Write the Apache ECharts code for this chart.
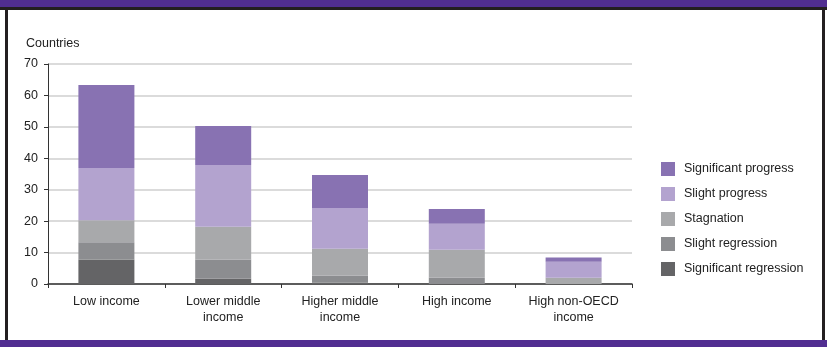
<!DOCTYPE html>
<html><head><meta charset="utf-8">
<script src="https://cdn.jsdelivr.net/npm/echarts@6/dist/echarts.min.js"></script>
<style>html,body{margin:0;padding:0;background:#fff}#c{width:827px;height:347px}</style>
</head><body><div id="c"></div>
<script>
var categories = ['Low income', 'Lower middle\nincome', 'Higher middle\nincome', 'High income', 'High non-OECD\nincome'];
var sigRegression = [7.8, 1.7, 0.5, 0, 0];
var slightRegression = [5.5, 6.0, 2.1, 2.0, 0];
var stagnation = [7.0, 10.5, 8.6, 8.9, 2.0];
var slightProgress = [16.6, 19.7, 13.0, 8.3, 5.1];
var sigProgress = [26.4, 12.4, 10.5, 4.7, 1.3];
var yTicks = [0, 10, 20, 30, 40, 50, 60, 70];
var seriesNames = ['Significant regression', 'Slight regression', 'Stagnation', 'Slight progress', 'Significant progress'];
var seriesColors = ['#646466', '#8c8d90', '#a8a9ab', '#b3a3cf', '#8872b2'];
var seriesData = [sigRegression, slightRegression, stagnation, slightProgress, sigProgress];

var FONT = '"Liberation Sans Narrow","Liberation Sans",Arial,sans-serif';
var chart = echarts.init(document.getElementById('c'), null, {renderer: 'canvas'});
var series = seriesData.map(function (d, i) {
  return {
    name: seriesNames[i], type: 'bar', stack: 'total', data: d,
    barWidth: 56, itemStyle: {color: seriesColors[i]}
  };
});
chart.setOption({
  animation: false,
  textStyle: {fontFamily: FONT},
  title: {text: 'Countries', left: 26, top: 37, padding: 0, textStyle: {fontFamily: FONT, fontSize: 12.5, fontWeight: 'normal', color: '#222'}},
  grid: {left: 48, right: 195, top: 64, bottom: 63},
  legend: {
    orient: 'vertical', left: 661, top: 162, padding: 0, itemWidth: 14, itemHeight: 14, itemGap: 11,
    icon: 'rect',
    data: seriesNames.slice().reverse(),
    textStyle: {fontFamily: FONT, fontSize: 12.5, color: '#222', padding: [0, 0, 0, 4]}
  },
  xAxis: {
    type: 'category', data: categories,
    axisLine: {lineStyle: {color: '#333', width: 1.5}},
    axisTick: {show: true, length: 4, lineStyle: {color: '#333'}},
    axisLabel: {interval: 0, fontFamily: FONT, fontSize: 12.5, color: '#222', margin: 10, lineHeight: 16}
  },
  yAxis: {
    type: 'value', min: yTicks[0], max: yTicks[yTicks.length - 1], interval: 10,
    axisLine: {show: true, lineStyle: {color: '#333', width: 1}},
    axisTick: {show: true, length: 4, lineStyle: {color: '#333'}},
    axisLabel: {fontFamily: FONT, fontSize: 12.5, color: '#222', margin: 10},
    splitLine: {lineStyle: {color: '#cfcfcf', width: 1.5}}
  },
  graphic: [
    {type: 'rect', shape: {x: 0, y: 0, width: 827, height: 8}, style: {fill: '#512e91'}, silent: true},
    {type: 'rect', shape: {x: 0, y: 7, width: 827, height: 3}, style: {fill: '#231f20'}, silent: true},
    {type: 'rect', shape: {x: 5, y: 7, width: 3, height: 340}, style: {fill: '#231f20'}, silent: true},
    {type: 'rect', shape: {x: 822, y: 7, width: 3, height: 340}, style: {fill: '#231f20'}, silent: true},
    {type: 'rect', shape: {x: 0, y: 340, width: 827, height: 7}, style: {fill: '#512e91'}, silent: true}
  ],
  series: series
});
</script></body></html>
